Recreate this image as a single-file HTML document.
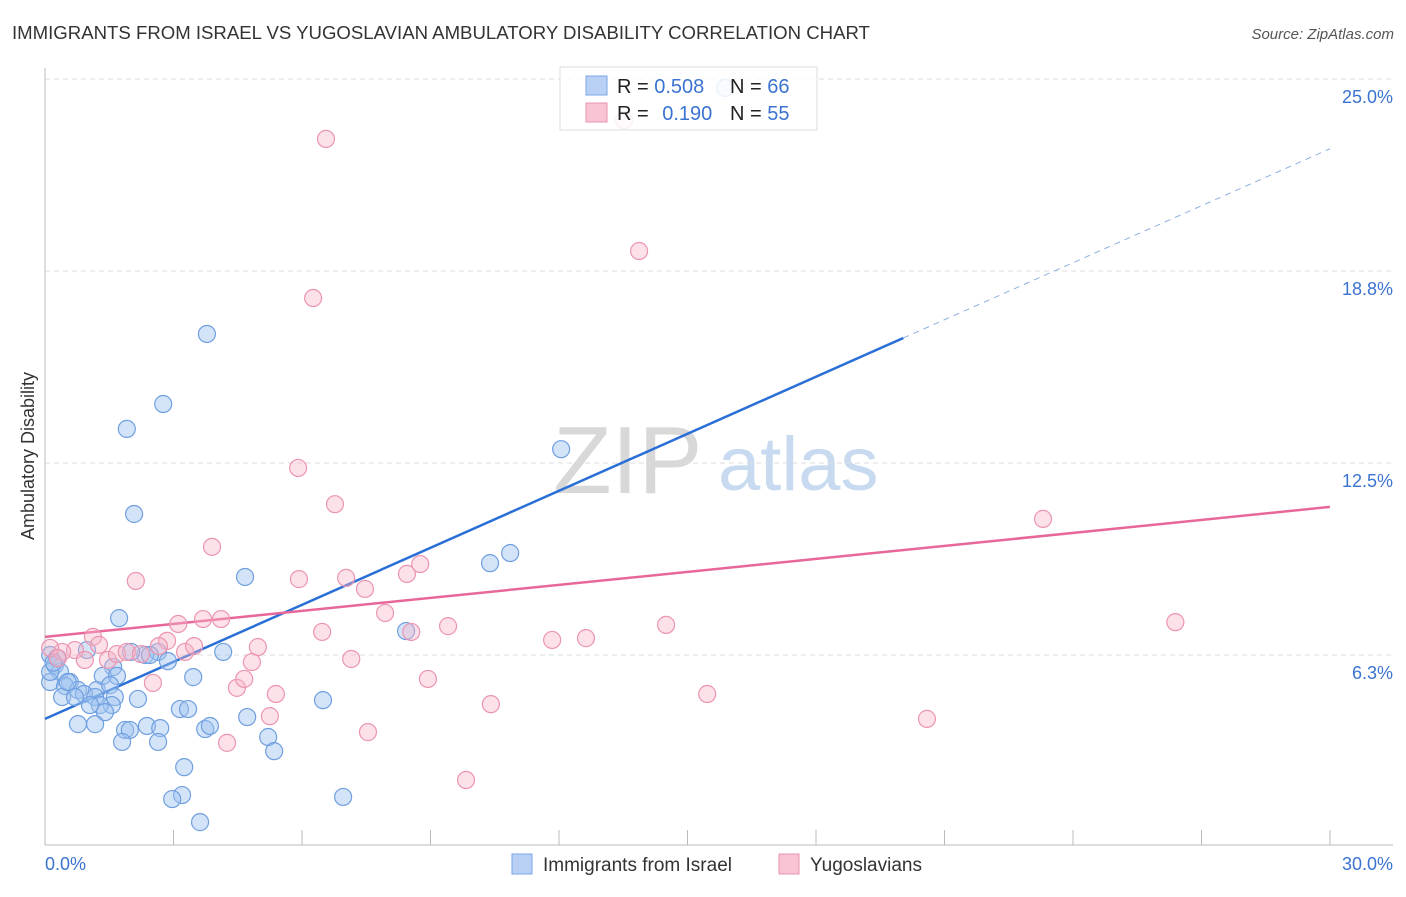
<!DOCTYPE html>
<html><head><meta charset="utf-8"><style>
body{margin:0;background:#fff;font-family:"Liberation Sans",sans-serif;}
svg text{font-family:"Liberation Sans",sans-serif;}
</style></head><body>
<svg id="chart" width="1406" height="892" xmlns="http://www.w3.org/2000/svg">
<text x="12" y="39" font-size="18.6" fill="#333">IMMIGRANTS FROM ISRAEL VS YUGOSLAVIAN AMBULATORY DISABILITY CORRELATION CHART</text>
<text x="1394" y="39" font-size="15" fill="#555" font-style="italic" text-anchor="end">Source: ZipAtlas.com</text>
<text x="34" y="456" font-size="18" fill="#333" text-anchor="middle" transform="rotate(-90 34 456)">Ambulatory Disability</text>
<g><text x="553" y="493" font-size="96" fill="#d8d8d8" font-family="Liberation Serif">ZIP</text><text x="718" y="490" font-size="76" fill="#c8daf0">atlas</text></g>
<g id="grid"></g><g id="axes"></g><g id="lines"></g><g id="pts"></g>
<g>
<rect x="560" y="67" width="257" height="63" fill="#fff" fill-opacity="0.85" stroke="#ddd"/>
<rect x="586" y="76" width="21" height="19" fill="#b8d0f4" stroke="#7aa6e6"/>
<rect x="586" y="103" width="21" height="19" fill="#f9c4d4" stroke="#eb93ae"/>
<text x="617" y="93" font-size="20" fill="#222">R = <tspan fill="#3b73d1">0.508</tspan></text>
<text x="730" y="93" font-size="20" fill="#222">N = <tspan fill="#3b73d1">66</tspan></text>
<text x="617" y="120" font-size="20" fill="#222">R = <tspan fill="#3b73d1" dx="8">0.190</tspan></text>
<text x="730" y="120" font-size="20" fill="#222">N = <tspan fill="#3b73d1">55</tspan></text>
</g>
<g>
<rect x="512" y="854" width="20" height="20" fill="#b8d0f4" stroke="#7aa6e6"/>
<text x="543" y="871" font-size="19" fill="#333">Immigrants from Israel</text>
<rect x="779" y="854" width="20" height="20" fill="#f9c4d4" stroke="#eb93ae"/>
<text x="810" y="871" font-size="19" fill="#333">Yugoslavians</text>
</g>
</svg>
<script>
const yTicks=[6.25,12.5,18.75,25];
const yTickLabels=["6.3%","12.5%","18.8%","25.0%"];
const xTicks=[0,3,6,9,12,15,18,21,24,27,30];
const israelX=[3.78,2.76,1.91,2.08,12.05,10.86,10.39,4.67,1.73,8.43,4.16,2.64,2.34,2.01,2.87,1.59,0.98,0.12,0.23,0.35,0.12,0.58,0.47,0.77,1.21,0.91,1.35,1.68,0.40,0.70,1.17,1.52,1.63,2.17,1.56,1.28,1.40,3.46,6.49,3.15,3.34,4.72,0.77,1.17,1.87,1.98,2.38,2.69,3.74,3.85,1.80,2.64,5.21,5.35,3.25,3.20,2.97,6.96,3.62,15.88,0.12,0.28,0.53,1.05,2.45,0.2];
const israelY=[16.70,14.42,13.61,10.84,12.95,9.57,9.24,8.79,7.45,7.03,6.35,6.35,6.25,6.35,6.05,5.86,6.41,6.25,5.92,5.70,5.37,5.37,5.24,5.11,5.11,4.98,5.57,5.57,4.88,4.88,4.88,5.27,4.88,4.82,4.62,4.62,4.39,5.53,4.78,4.49,4.49,4.23,4.00,4.00,3.81,3.81,3.94,3.87,3.84,3.94,3.42,3.42,3.58,3.12,2.60,1.69,1.56,1.63,0.81,24.71,5.70,6.15,5.37,4.62,6.25,6.0];
const yugoX=[6.56,13.87,13.52,6.26,5.91,6.77,3.90,2.12,5.93,7.03,8.45,8.76,7.47,7.94,23.30,26.39,4.11,3.69,3.11,6.47,8.55,9.41,11.84,12.63,14.50,2.85,1.12,1.26,0.70,0.40,0.12,0.30,0.93,1.47,1.68,1.91,2.24,2.66,3.27,3.48,4.97,4.83,7.15,8.94,2.52,4.48,4.65,5.39,5.25,15.46,10.41,20.59,7.54,4.25,9.83];
const yugoY=[23.05,19.40,23.66,17.87,12.34,11.16,9.77,8.66,8.72,8.76,8.89,9.21,8.40,7.62,10.68,7.32,7.42,7.42,7.26,7.00,7.00,7.19,6.74,6.80,7.23,6.71,6.84,6.58,6.41,6.35,6.48,6.15,6.09,6.09,6.28,6.35,6.28,6.54,6.35,6.54,6.51,6.02,6.12,5.47,5.34,5.18,5.47,4.98,4.26,4.98,4.65,4.17,3.74,3.39,2.18];
const blueLine=[4.17,16.57,20.04,22.73];
const pinkLine=[6.84,11.07];
const NS="http://www.w3.org/2000/svg";
const sx=v=>45+v/30*1285, sy=v=>847-v*30.72;
function mk(t,a,p){const e=document.createElementNS(NS,t);for(const k in a)e.setAttribute(k,a[k]);p.appendChild(e);return e;}
const grid=document.getElementById('grid'),axes=document.getElementById('axes');
yTicks.forEach((t,i)=>{
 const l=mk('line',{x1:45,x2:1393,y1:sy(t),y2:sy(t),stroke:'#ddd','stroke-dasharray':'5,4'},grid);
 
 
 const tx=mk('text',{x:1393,y:sy(t)+24,'font-size':18,fill:'#3b73d1','text-anchor':'end'},axes);
 tx.textContent=yTickLabels[i];
 
 
});
mk('line',{x1:45,x2:45,y1:68,y2:845,stroke:'#bbb'},axes);
mk('line',{x1:45,x2:1393,y1:845,y2:845,stroke:'#bbb'},axes);
xTicks.forEach(t=>{const l=mk('line',{x1:sx(t),x2:sx(t),y1:830,y2:845,stroke:'#bbb'},axes);
 
 });
const xl0=mk('text',{x:45,y:870,'font-size':18,fill:'#3b73d1'},axes);xl0.textContent='0.0%';


const xl1=mk('text',{x:1393,y:870,'font-size':18,fill:'#3b73d1','text-anchor':'end'},axes);xl1.textContent='30.0%';


const pts=document.getElementById('pts');
israelX.forEach((x,i)=>{const c=mk('circle',{cx:sx(x),cy:sy(israelY[i]),r:8.5,fill:'rgba(160,195,240,0.45)',stroke:'#6f9fe0','stroke-width':1.2},pts);
 
 });
yugoX.forEach((x,i)=>{const c=mk('circle',{cx:sx(x),cy:sy(yugoY[i]),r:8.5,fill:'rgba(247,180,200,0.4)',stroke:'#ec95b0','stroke-width':1.2},pts);
 
 });
const lg=document.getElementById('lines');
const b1=mk('line',{x1:sx(0),y1:sy(blueLine[0]),x2:sx(blueLine[2]),y2:sy(blueLine[1]),stroke:'#2a6fd6','stroke-width':2.5},lg);


const b2=mk('line',{x1:sx(blueLine[2]),y1:sy(blueLine[1]),x2:sx(30),y2:sy(blueLine[3]),stroke:'#8fb0e0','stroke-width':1,'stroke-dasharray':'6,5'},lg);


const p1=mk('line',{x1:sx(0),y1:sy(pinkLine[0]),x2:sx(30),y2:sy(pinkLine[1]),stroke:'#e8679a','stroke-width':2.5},lg);


</script>
</body></html>
